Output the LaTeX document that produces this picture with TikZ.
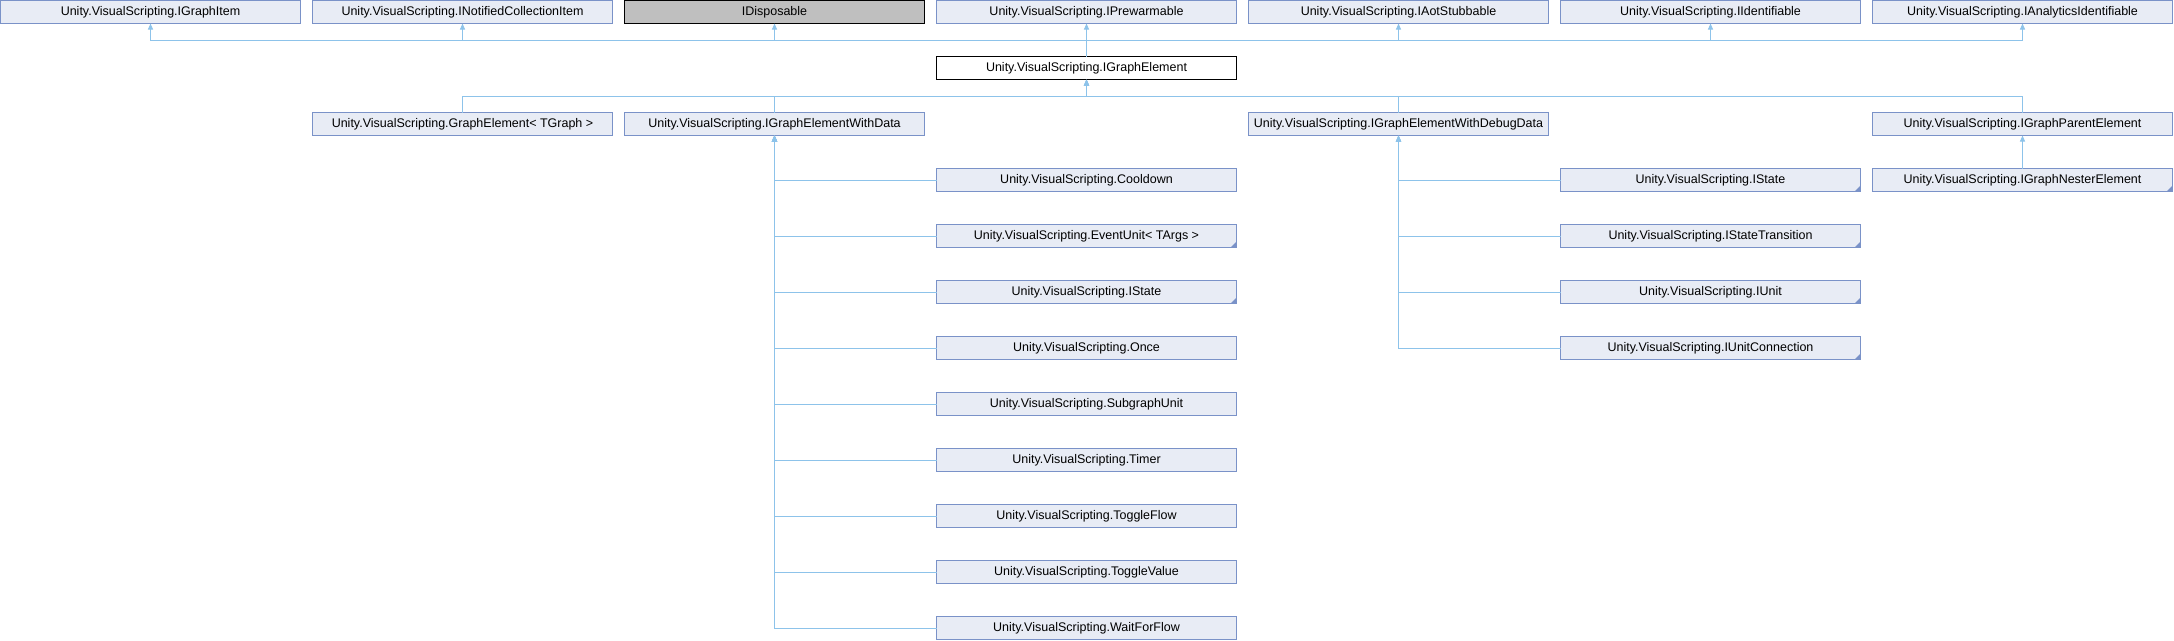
\documentclass[tikz,border=0pt]{standalone}
\usepackage{fontspec}
\setmainfont{Liberation Sans}
\usetikzlibrary{arrows.meta}
\definecolor{edgecol}{HTML}{8DC3EA}
\definecolor{boxfill}{HTML}{E8ECF5}
\definecolor{boxline}{HTML}{7A92C8}
\definecolor{extfill}{HTML}{BFBFBF}
\tikzset{
  cls/.style={draw=boxline, fill=boxfill, line width=1pt, rectangle, anchor=north west,
    minimum width=300pt, minimum height=23pt, inner sep=0pt, outer sep=0pt,
    font=\fontsize{12.5}{15}\selectfont},
  cur/.style={cls, draw=black, fill=white},
  ext/.style={cls, draw=black, fill=extfill},
  inh/.style={draw=edgecol, line width=1pt, {Triangle[width=5pt,length=6pt]}-},
  more/.style={fill=boxline},
}
\newcommand{\corner}[1]{\fill[more] (#1.south east) -- ++(-6,0) -- ++(6,-6) -- cycle;}
\begin{document}
\begin{tikzpicture}[x=1pt,y=-1pt]
\useasboundingbox (0,0) rectangle (2174,640);
\coordinate (bus1) at (0,40);
\coordinate (bus2) at (0,96);
% top row
\node[cls] (t1) at (0.5,0.5) {Unity.VisualScripting.IGraphItem};
\node[cls] (t2) at (312.5,0.5) {Unity.VisualScripting.INotifiedCollectionItem};
\node[ext] (t3) at (624.5,0.5) {IDisposable};
\node[cls] (t4) at (936.5,0.5) {Unity.VisualScripting.IPrewarmable};
\node[cls] (t5) at (1248.5,0.5) {Unity.VisualScripting.IAotStubbable};
\node[cls] (t6) at (1560.5,0.5) {Unity.VisualScripting.IIdentifiable};
\node[cls] (t7) at (1872.5,0.5) {Unity.VisualScripting.IAnalyticsIdentifiable};
% current
\node[cur] (ge) at (936.5,56.5) {Unity.VisualScripting.IGraphElement};
% second row
\node[cls] (r1) at (312.5,112.5) {Unity.VisualScripting.GraphElement< TGraph >};
\node[cls] (wd) at (624.5,112.5) {Unity.VisualScripting.IGraphElementWithData};
\node[cls] (wdd) at (1248.5,112.5) {Unity.VisualScripting.IGraphElementWithDebugData};
\node[cls] (pe) at (1872.5,112.5) {Unity.VisualScripting.IGraphParentElement};
% WithData children
\node[cls] (a1) at (936.5,168.5) {Unity.VisualScripting.Cooldown};
\node[cls] (a2) at (936.5,224.5) {Unity.VisualScripting.EventUnit< TArgs >};
\node[cls] (a3) at (936.5,280.5) {Unity.VisualScripting.IState};
\node[cls] (a4) at (936.5,336.5) {Unity.VisualScripting.Once};
\node[cls] (a5) at (936.5,392.5) {Unity.VisualScripting.SubgraphUnit};
\node[cls] (a6) at (936.5,448.5) {Unity.VisualScripting.Timer};
\node[cls] (a7) at (936.5,504.5) {Unity.VisualScripting.ToggleFlow};
\node[cls] (a8) at (936.5,560.5) {Unity.VisualScripting.ToggleValue};
\node[cls] (a9) at (936.5,616.5) {Unity.VisualScripting.WaitForFlow};
% WithDebugData children
\node[cls] (b1) at (1560.5,168.5) {Unity.VisualScripting.IState};
\node[cls] (b2) at (1560.5,224.5) {Unity.VisualScripting.IStateTransition};
\node[cls] (b3) at (1560.5,280.5) {Unity.VisualScripting.IUnit};
\node[cls] (b4) at (1560.5,336.5) {Unity.VisualScripting.IUnitConnection};
% ParentElement child
\node[cls] (n1) at (1872.5,168.5) {Unity.VisualScripting.IGraphNesterElement};
% corner marks
\corner{a2}\corner{a3}\corner{b1}\corner{b2}\corner{b3}\corner{b4}\corner{n1}
% edges level 1
\foreach \t in {t1,t2,t3,t4,t5,t6,t7}{
  \draw[inh] (\t.south) |- (ge.north |- bus1) -- (ge.north);
}
% edges level 2
\foreach \c in {r1,wd,wdd,pe}{
  \draw[inh] (ge.south) -- (ge.south |- bus2) -| (\c.north);
}
% edges level 3
\foreach \c in {a1,a2,a3,a4,a5,a6,a7,a8,a9}{
  \draw[inh] (wd.south) |- (\c.west);
}
\foreach \c in {b1,b2,b3,b4}{
  \draw[inh] (wdd.south) |- (\c.west);
}
\draw[inh] (pe.south) -- (n1.north);
\end{tikzpicture}
\end{document}
